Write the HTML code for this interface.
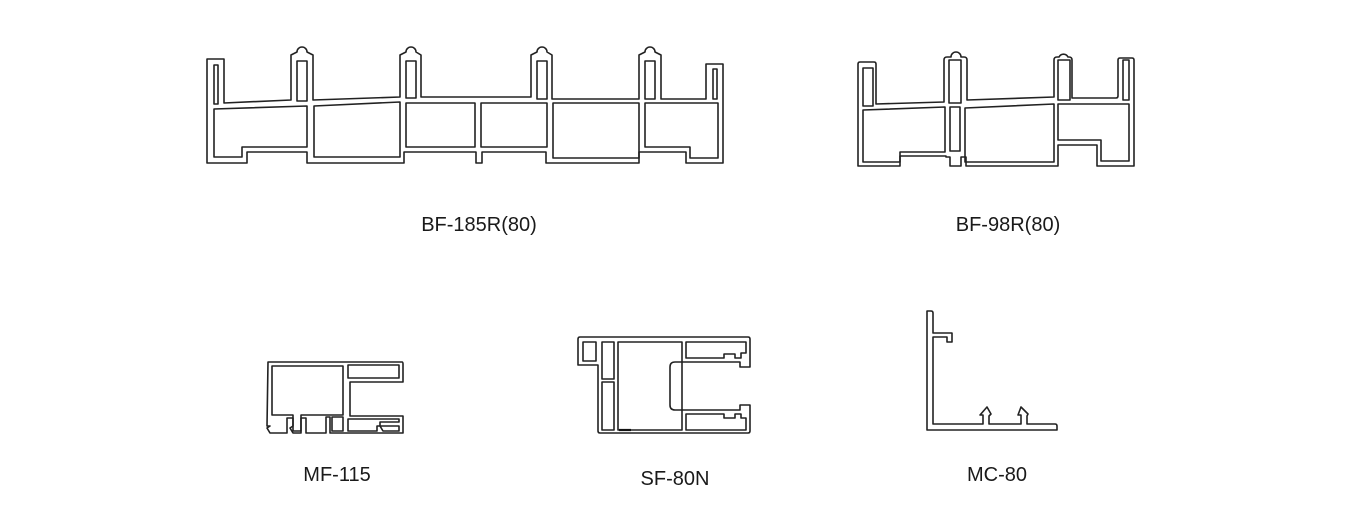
<!DOCTYPE html>
<html><head><meta charset="utf-8"><style>
html,body{margin:0;padding:0;background:#fff;width:1350px;height:530px;overflow:hidden}
svg{display:block}
text{font-family:"Liberation Sans",sans-serif;font-size:20px;fill:#1a1a1a}
path,rect{fill:none;stroke:#222;stroke-width:1.6;stroke-linejoin:round}
</style></head><body>
<svg width="1350" height="530" viewBox="0 0 1350 530">
<!-- BF-185R -->
<path d="M207,59 L224,59 L224,103 L291,100 L291,55 L297,52 A5,5 0 0 1 307,52 L313,55 L313,100 L400,97 L400,55 L406,52 A5,5 0 0 1 416,52 L421,55 L421,97 L531,97 L531,55 L537,52 A5,5 0 0 1 547,52 L552,55 L552,99 L639,99 L639,55 L645,52 A5,5 0 0 1 655,52 L661,55 L661,99 L706,99 L706,64 L723,64 L723,163 L686,163 L686,152 L639,152 L639,163 L546,163 L546,152 L482,152 L482,163 L476,163 L476,152 L404,152 L404,163 L307,163 L307,152 L247,152 L247,163 L207,163 Z"/>
<path d="M214,109 L307,106 L307,147 L242,147 L242,157 L214,157 Z"/>
<path d="M314,106 L400,102 L400,157 L314,157 Z"/>
<rect x="406" y="103" width="69" height="44"/>
<rect x="481" y="103" width="66" height="44"/>
<rect x="553" y="103" width="86" height="55"/>
<path d="M645,103 L718,103 L718,158 L690,158 L690,147 L645,147 Z"/>
<rect x="214" y="65" width="4" height="39"/>
<rect x="713" y="69" width="4" height="30"/>
<rect x="297" y="61" width="10" height="40"/>
<rect x="406" y="61" width="10" height="37"/>
<rect x="537" y="61" width="10" height="38"/>
<rect x="645" y="61" width="10" height="38"/>
<text x="479" y="231" text-anchor="middle">BF-185R(80)</text>

<!-- BF-98R -->
<path d="M860,62 L874,62 Q876,62 876,64 L876,104 L944,102 L944,60 Q944,57 947,57 L951,57 A5,5 0 0 1 961,57 L964,57 Q967,57 967,60 L967,100 L1054,97 L1054,60 Q1054,57 1057,57 L1059,57 A5,5 0 0 1 1068,57 L1069,57 Q1072,57 1072,60 L1072,98 L1116,98 Q1118,98 1118,96 L1118,60 Q1118,58 1120,58 L1132,58 Q1134,58 1134,60 L1134,166 L1097,166 L1097,145 L1058,145 L1058,166 L966,166 L966,157 L961,157 L961,166 L950,166 L950,157 L946,157 L946,156 L900,156 L900,166 L858,166 L858,64 Q858,62 860,62 Z"/>
<path d="M863,110 L945,107 L945,152 L900,152 L900,162 L863,162 Z"/>
<rect x="950" y="107" width="10" height="44"/>
<path d="M965,108 L1054,104 L1054,162 L965,162 Z"/>
<path d="M1058,104 L1129,104 L1129,161 L1101,161 L1101,140 L1058,140 Z"/>
<rect x="863" y="68" width="10" height="38"/>
<rect x="949" y="60" width="12" height="43"/>
<rect x="1058" y="60" width="12" height="40"/>
<rect x="1123" y="60" width="6" height="40"/>
<text x="1008" y="231" text-anchor="middle">BF-98R(80)</text>

<!-- MF-115 -->
<path d="M268,362 L402,362 Q403,362 403,364 L403,382 L350,382 L350,416 L403,416 L403,433 L330,433 L330,417 L326,417 L326,433 L306,433 L306,418 L301,418 L301,433 L293,433 L290,428 L293,426 L293,418 L287,418 L287,433 L270,433 L267,428 L270,426 L267,426 Z"/>
<path d="M272,366 L343,366 L343,415 L301,415 L301,431 L293,431 L293,415 L272,415 Z"/>
<rect x="348" y="365" width="51" height="13"/>
<rect x="332" y="417" width="11" height="14"/>
<path d="M348,419 L399,419 L399,422 L380,422 L380,426 L377,426 L377,431 L348,431 Z"/>
<path d="M380,426 L399,426 L399,431 L383,431 Z"/>
<text x="337" y="481" text-anchor="middle">MF-115</text>

<!-- SF-80N -->
<path d="M580,337 L748,337 Q750,337 750,339 L750,367 L740,367 L740,362 L675,362 Q670,362 670,367 L670,405 Q670,410 675,410 L740,410 L740,405 L750,405 L750,431 Q750,433 748,433 L600,433 Q598,433 598,431 L598,365 L578,365 L578,339 Q578,337 580,337 Z"/>
<rect x="583" y="342" width="13" height="19"/>
<rect x="602" y="342" width="12" height="37"/>
<rect x="602" y="382" width="12" height="48"/>
<rect x="618" y="342" width="64" height="88"/>
<path d="M686,342 L746,342 L746,353 L741,353 L741,358 L735,358 L735,354 L724,354 L724,358 L686,358 Z"/>
<path d="M686,414 L724,414 L724,418 L735,418 L735,414 L741,414 L741,418 L746,418 L746,430 L686,430 Z"/>
<line x1="619" y1="430" x2="631" y2="430" stroke="#111" stroke-width="2.2"/>
<text x="675" y="485" text-anchor="middle">SF-80N</text>

<!-- MC-80 -->
<path d="M927,311 L931,311 Q933,311 933,313 L933,333 L952,333 L952,342 L947,342 L947,337 L933,337 L933,424 L983,424 L983,415 L980,415 L987,407 L991,414 L989,416 L989,424 L1021,424 L1021,415 L1018,415 L1021,407 L1028,414 L1027,416 L1027,424 L1055,424 Q1057,424 1057,426 L1057,430 L927,430 Z"/>
<text x="997" y="481" text-anchor="middle">MC-80</text>
</svg>
</body></html>
